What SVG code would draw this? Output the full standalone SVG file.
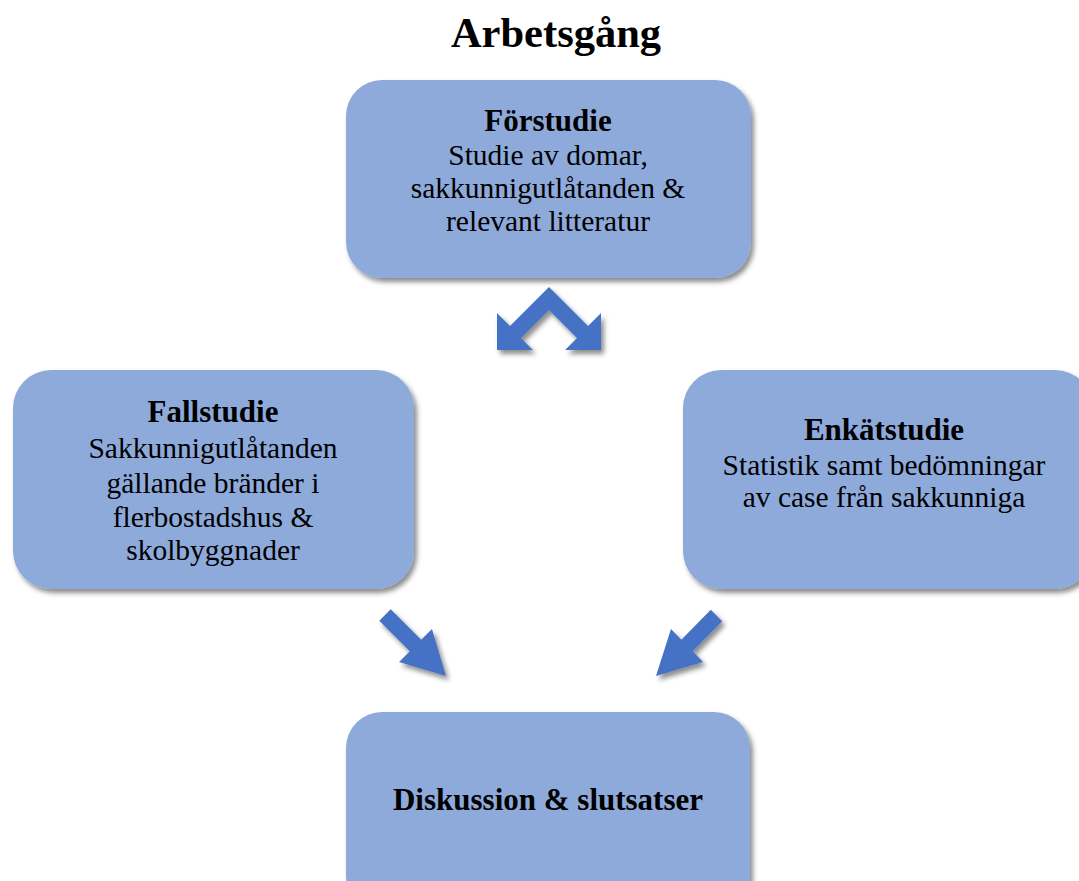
<svg xmlns="http://www.w3.org/2000/svg" width="1079" height="881" viewBox="0 0 1079 881">
<style>
.box{fill:#8EAADB;filter:url(#sh)}
.arr{fill:#4472C4;filter:url(#sh)}
text{font-family:"Liberation Serif","Times New Roman",serif;fill:#000;text-anchor:middle}
.h{font-weight:bold;font-size:31px}
.t{font-size:29.5px}
.title{font-weight:bold;font-size:42.5px}
</style>
<defs>
<filter id="sh" x="-10%" y="-10%" width="125%" height="130%">
<feDropShadow dx="3" dy="4" stdDeviation="2.5" flood-color="#000" flood-opacity="0.45"/>
</filter>
</defs>
<rect width="1079" height="881" fill="#fff"/>
<text class="title" x="556" y="47">Arbetsgång</text>
<g id="forstudie">
<rect class="box" x="346" y="80" width="405" height="198" rx="36"/>
<text class="h" x="548" y="131">Förstudie</text>
<text class="t" x="548" y="165">Studie av domar,</text>
<text class="t" x="548" y="198">sakkunnigutlåtanden &amp;</text>
<text class="t" x="548" y="231">relevant litteratur</text>
</g>
<g id="fallstudie">
<rect class="box" x="13" y="370" width="401" height="219" rx="38"/>
<text class="h" x="213" y="422">Fallstudie</text>
<text class="t" x="213" y="458">Sakkunnigutlåtanden</text>
<text class="t" x="213" y="493">gällande bränder i</text>
<text class="t" x="213" y="527">flerbostadshus &amp;</text>
<text class="t" x="213" y="560">skolbyggnader</text>
</g>
<g id="enkatstudie">
<rect class="box" x="683" y="370" width="410" height="219" rx="38"/>
<text class="h" x="884" y="440">Enkätstudie</text>
<text class="t" x="884" y="475">Statistik samt bedömningar</text>
<text class="t" x="884" y="507">av case från sakkunniga</text>
</g>
<g id="diskussion">
<rect class="box" x="346" y="712" width="404" height="200" rx="36"/>
<text class="h" x="548" y="810">Diskussion &amp; slutsatser</text>
</g>
<g id="connectors">
<path class="arr" d="M549,287 L588,326 L601,313 L601,350 L565,350 L577,338 L549,310 L521,338 L533,350 L497,350 L497,313 L510,326 Z"/>
<path class="arr" d="M390.7,609.3 L421.2,639.8 L432,629 L446,676 L399,662 L409.8,651.2 L379.3,620.7 Z"/>
<path class="arr" d="M710.8,609.8 L681.3,639.8 L671,629 L656,676 L703,662 L692.7,651.2 L722.2,621.2 Z"/>
</g>
</svg>
